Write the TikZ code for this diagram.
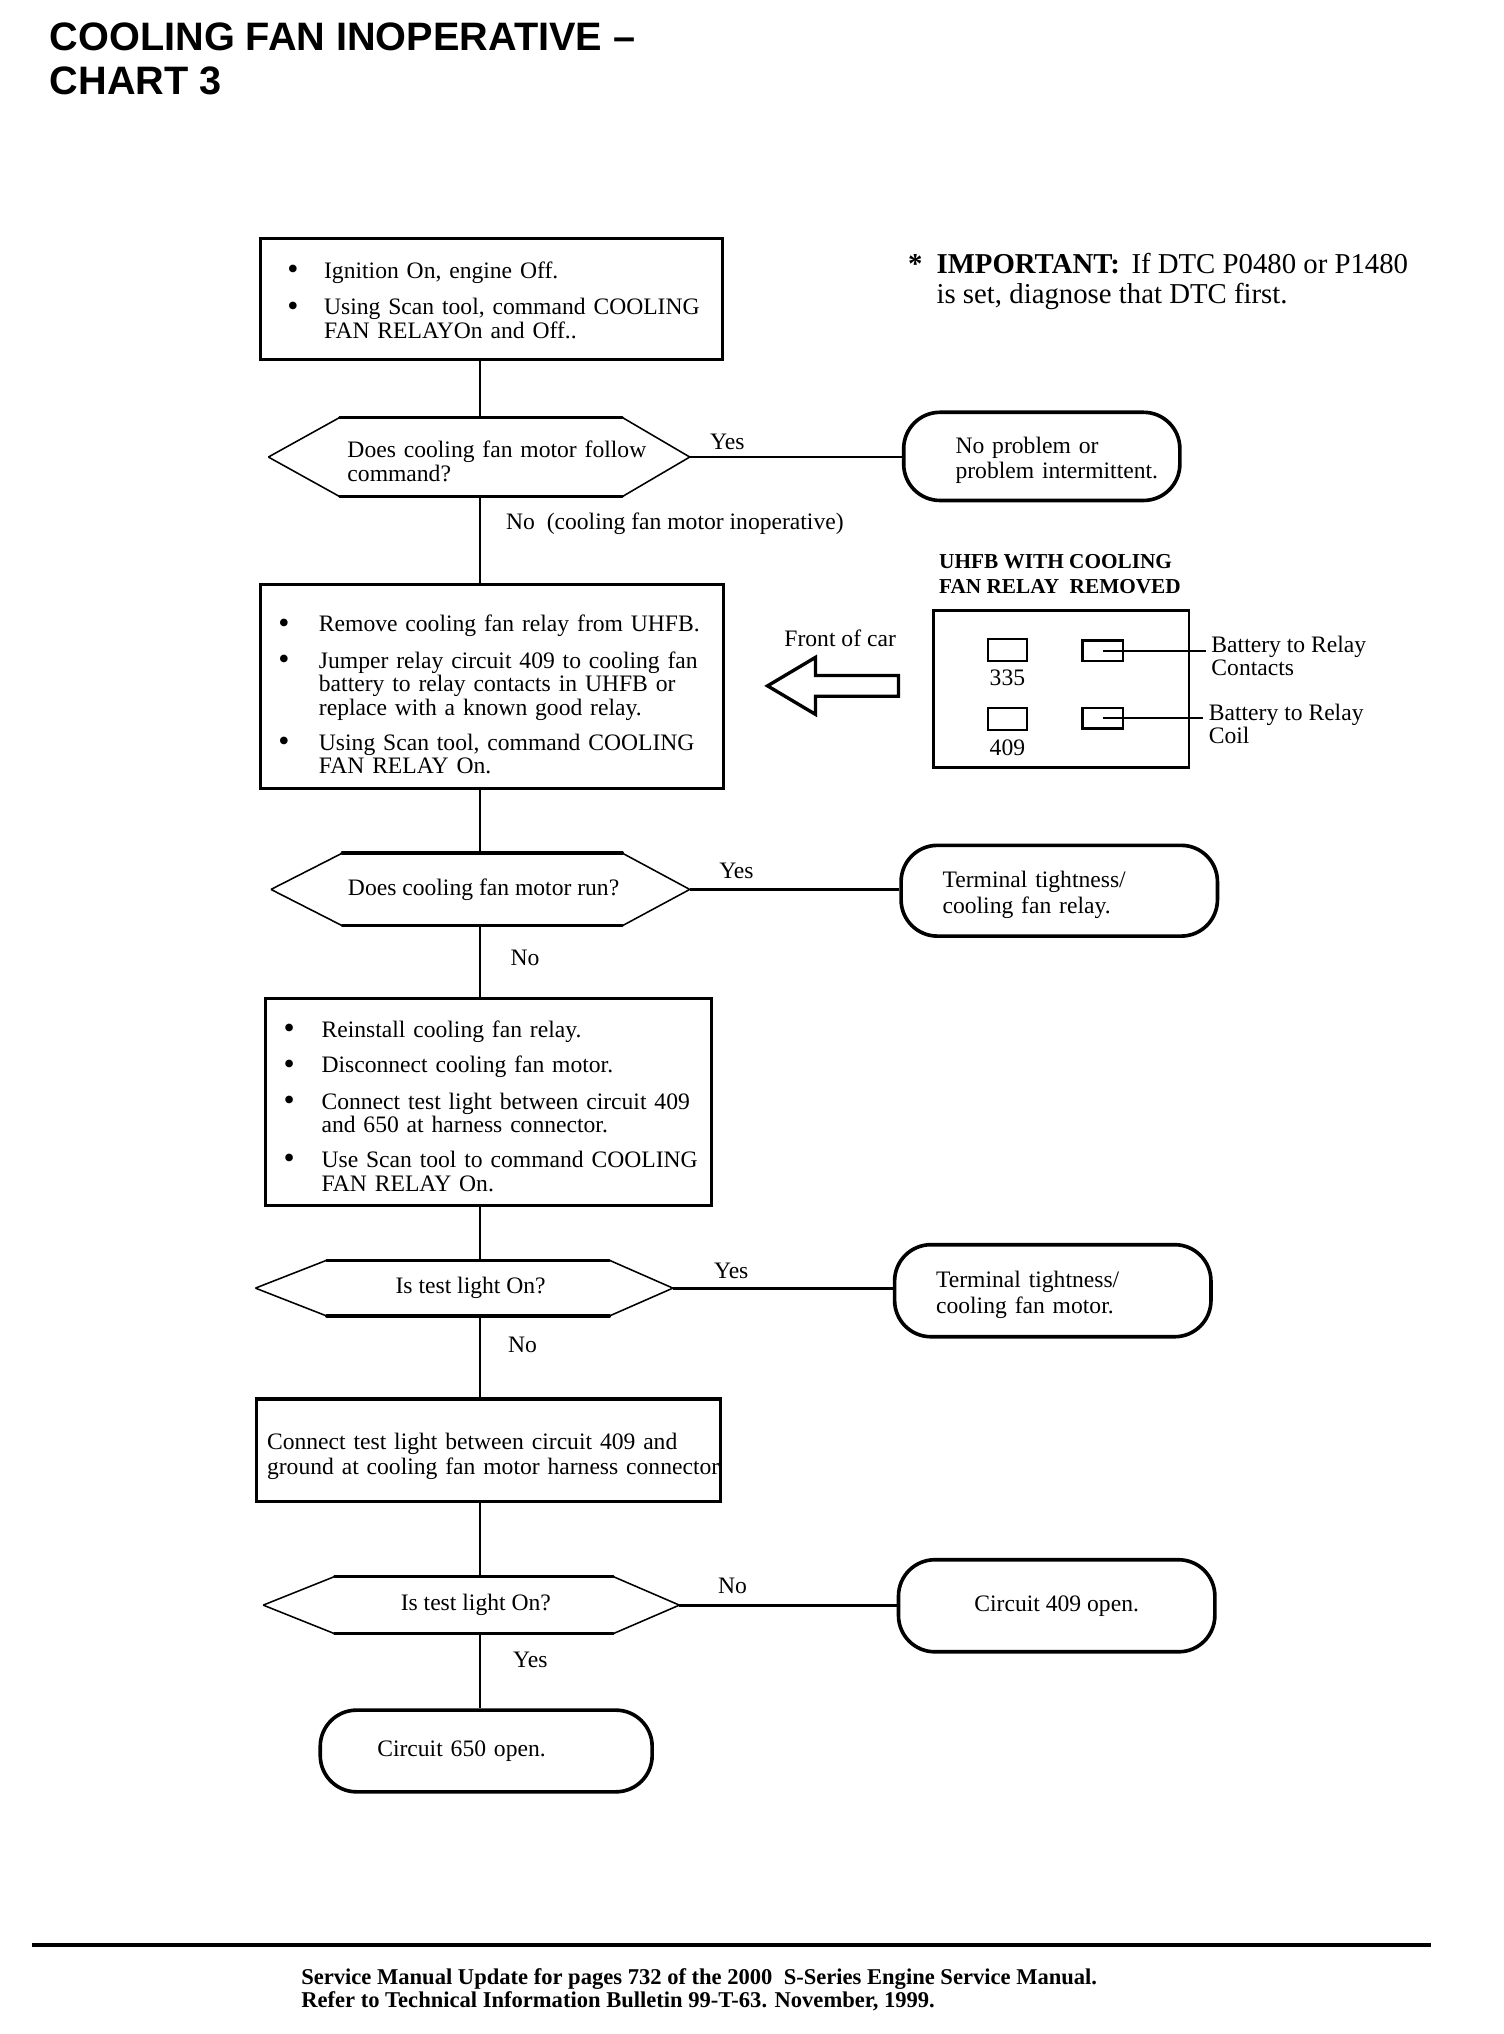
\documentclass[tikz,border=0pt]{standalone}
\usepackage{fontspec}
\usepackage{graphicx}
\setmainfont{Liberation Serif}
\newfontfamily\titlefont{Liberation Sans}
\newcommand{\bodyfont}{\fontsize{9.1}{9}\selectfont}
\newcommand{\bu}{\raisebox{-0.05em}{\scalebox{1.35}{\textbullet}}}
\newcommand{\blist}[3][0pt]{\begin{tabular}{@{}p{#2}@{}l@{}}\noalign{\vskip\dimexpr#1+3.8pt\relax}#3\end{tabular}}
\newcommand{\lns}[2][3.8pt]{\begin{tabular}{@{}l@{}}\noalign{\vskip#1}#2\end{tabular}}
\newcommand{\hexshape}[3]{%
  \draw[hexthin] (#1.west) -- ([xshift=#2]#1.north west) ([xshift=-#3]#1.north east) -- (#1.east) -- ([xshift=-#3]#1.south east) ([xshift=#2]#1.south west) -- (#1.west);
  \draw[hexthick] ([xshift=#2]#1.north west) -- ([xshift=-#3]#1.north east) ([xshift=#2]#1.south west) -- ([xshift=-#3]#1.south east);}
\begin{document}
\begin{tikzpicture}[x=0.5pt,y=-0.5pt,
  box/.style={draw, line width=1.2pt, inner sep=0pt, align=left, font=\bodyfont},
  term/.style={draw, line width=1.4pt, rounded corners=14pt, inner sep=0pt, font=\bodyfont},
  dtext/.style={inner sep=0pt, outer sep=0pt, font=\bodyfont},
  conn/.style={line width=0.6pt},
  yesline/.style={line width=1.1pt},
  lab/.style={inner sep=0pt, font=\bodyfont},
  hexthin/.style={line width=0.6pt},
  hexthick/.style={line width=1.3pt, line cap=round},
  slot/.style={draw, line width=0.9pt, inner sep=0pt},
  leader/.style={line width=0.9pt}]
\useasboundingbox (0,0) rectangle (1160,1568.8);
\coordinate (spine) at (370,0);

% title
\node[anchor=west, inner sep=0pt, align=left, font=\titlefont\bfseries\fontsize{15.3}{17}\selectfont] (title) at (38,45.5) {COOLING FAN INOPERATIVE –\\CHART 3};

% important note
\node[anchor=west, inner sep=0pt, font=\fontsize{11.1}{11.5}\selectfont] (imp) at (700,214.5)
  {\begin{tabular}{@{}p{11pt}@{}l@{}}\noalign{\vskip3.5pt}\textbf{*} & \textbf{IMPORTANT:}\hspace{0.4em}If DTC P0480 or P1480\\ & is set, diagnose that DTC first.\end{tabular}};

% boxes
\node[box, minimum width=178pt, minimum height=46.5pt, text width=157.3pt] (b1) at (379,230.5)
  {\blist{14.15pt}{\bu & Ignition On, engine Off.\\[5pt] \bu & Using Scan tool, command COOLING\\ & FAN RELAYOn and Off..}};
\node[box, minimum width=178.5pt, minimum height=78.5pt, text width=164.8pt] (b2) at (379.5,529.5)
  {\blist[5pt]{15.65pt}{\bu & Remove cooling fan relay from UHFB.\\[5pt] \bu & Jumper relay circuit 409 to cooling fan\\ & battery to relay contacts in UHFB or\\ & replace with a known good relay.\\[4.5pt] \bu & Using Scan tool, command COOLING\\ & FAN RELAY On.}};
\node[box, minimum width=172pt, minimum height=80pt, text width=158.3pt] (b3) at (377,850)
  {\blist[2pt]{14.65pt}{\bu & Reinstall cooling fan relay.\\[4.5pt] \bu & Disconnect cooling fan motor.\\[5pt] \bu & Connect test light between circuit 409\\ & and 650 at harness connector.\\[4.5pt] \bu & Use Scan tool to command COOLING\\ & FAN RELAY On.}};
\node[box, minimum width=179pt, minimum height=39.5pt, text width=171pt] (b4) at (377,1118.5)
  {\lns[5.8pt]{Connect test light between circuit 409 and\\[0.5pt] ground at cooling fan motor harness connector.}};

% decisions
\node[dtext, minimum width=162.5pt, minimum height=30.5pt, text width=101.5pt, align=left] (d1) at (369.5,352.5)
  {\lns[6pt]{Does cooling fan motor follow\\[0.5pt] command?}};
\hexshape{d1}{27.5pt}{26pt}
\node[dtext, minimum width=161.5pt, minimum height=28pt] (d2) at (370.5,686) {\hspace*{2.5pt}Does cooling fan motor run?};
\hexshape{d2}{27.5pt}{26pt}
\node[dtext, minimum width=161pt, minimum height=21.5pt] (d3) at (358,993.5) {\hspace*{5pt}Is test light On?};
\hexshape{d3}{27.5pt}{24.5pt}
\node[dtext, minimum width=160.5pt, minimum height=22pt] (d4) at (363.5,1238) {\hspace*{3.5pt}Is test light On?};
\hexshape{d4}{27.5pt}{25.5pt}

% terminals
\node[term, minimum width=106.5pt, minimum height=34pt, text width=66.5pt, align=left] (t1) at (803.5,352)
  {\lns{No problem or\\[0.5pt] problem intermittent.}};
\node[term, minimum width=122pt, minimum height=35pt, text width=90pt, align=left] (t2) at (817,687)
  {\lns{Terminal tightness/\\[1pt] cooling fan relay.}};
\node[term, minimum width=122pt, minimum height=35.5pt, text width=90pt, align=left] (t3) at (812,995.5)
  {\lns{Terminal tightness/\\[1pt] cooling fan motor.}};
\node[term, minimum width=122pt, minimum height=35.5pt] (t4) at (815,1238.5) {Circuit 409 open.};
\node[term, minimum width=128pt, minimum height=31.5pt, text width=84pt, align=left] (t5) at (375,1350.5) {Circuit 650 open.};

% vertical connectors
\draw[conn] (b1.south -| spine) -- (d1.north -| spine);
\draw[conn] (d1.south -| spine) -- (b2.north -| spine);
\draw[conn] (b2.south -| spine) -- (d2.north -| spine);
\draw[conn] (d2.south -| spine) -- (b3.north -| spine);
\draw[conn] (b3.south -| spine) -- (d3.north -| spine);
\draw[conn] (d3.south -| spine) -- (b4.north -| spine);
\draw[conn] (b4.south -| spine) -- (d4.north -| spine);
\draw[conn] (d4.south -| spine) -- (t5.north -| spine);

% horizontal connectors
\draw[yesline] (d1.east) -- (d1.east -| t1.west);
\draw[yesline] (d2.east) -- (d2.east -| t2.west);
\draw[yesline] (d3.east) -- (d3.east -| t3.west);
\draw[yesline] (d4.east) -- (d4.east -| t4.west);

% labels
\node[lab] (y1) at (561,341) {Yes};
\node[lab, anchor=west] (n1) at (390,404) {No\ \ (cooling fan motor inoperative)};
\node[lab] (y2) at (568,672) {Yes};
\node[lab] (n2) at (405,739) {No};
\node[lab] (y3) at (564,980) {Yes};
\node[lab] (n3) at (403,1037) {No};
\node[lab] (n4) at (565,1223) {No};
\node[lab] (y4) at (409,1280) {Yes};

% UHFB inset
\node[anchor=west, inner sep=0pt, font=\bfseries\fontsize{8.2}{9.5}\selectfont] (uhfbt) at (724,441.5)
  {\lns[3pt]{UHFB WITH COOLING\\ FAN RELAY\ \ REMOVED}};
\node[lab] (front) at (648,492) {Front of car};
\draw[line width=1.3pt, line join=miter] (592,529) -- (629,507) -- (629,521) -- (693,521) -- (693,537) -- (629,537) -- (629,551) -- cycle;
\node[draw, line width=1.1pt, minimum width=98.5pt, minimum height=60.5pt, inner sep=0pt] (uhfb) at (818.5,531.5) {};
\node[slot, minimum width=15pt, minimum height=8.5pt] (s1) at (777,501.5) {};
\node[slot, minimum width=15pt, minimum height=8.5pt] (s2) at (777,554.5) {};
\node[slot, minimum width=15.5pt, minimum height=8pt] (s3) at (850.5,502) {};
\node[slot, minimum width=15.5pt, minimum height=8pt] (s4) at (850.5,554) {};
\node[lab] (c335) at (777,523) {335};
\node[lab] (c409) at (777,577) {409};
\node[anchor=west, inner sep=2pt, font=\bodyfont] (bl1) at (930,504.5) {\lns{Battery to Relay\\ Contacts}};
\node[anchor=west, inner sep=2pt, font=\bodyfont] (bl2) at (928,557) {\lns{Battery to Relay\\ Coil}};
\draw[leader] (s3.center) -- (s3.center -| bl1.west);
\draw[leader] (s4.center) -- (s4.center -| bl2.west);

% footer
\draw[line width=1.5pt] (25,1500) -- (1104,1500);
\node[anchor=west, inner sep=0pt, font=\bfseries\fontsize{8.7}{9}\selectfont] (foot) at (232,1532)
  {\lns{Service Manual Update for pages 732 of the 2000\ \ S-Series Engine Service Manual.\\ Refer to Technical Information Bulletin 99-T-63. November, 1999.}};
\end{tikzpicture}
\end{document}
